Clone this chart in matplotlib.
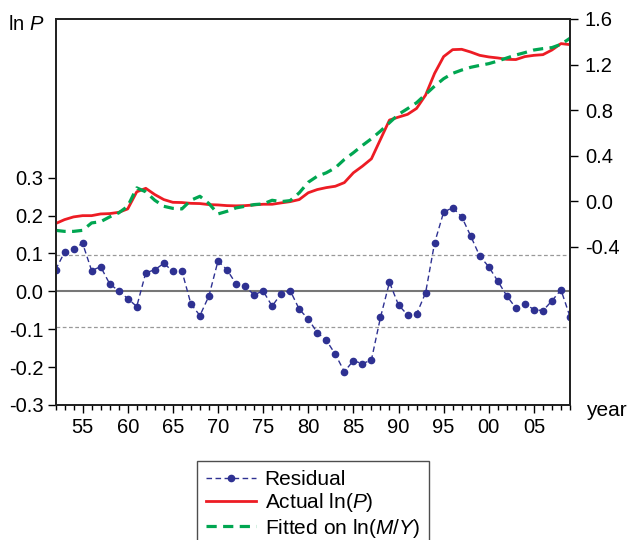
import numpy as np
import matplotlib
matplotlib.use("Agg")
import matplotlib.pyplot as plt
from matplotlib.ticker import FixedLocator, FixedFormatter

plt.rcParams['font.family'] = ['Liberation Sans', 'DejaVu Sans']
plt.rcParams['mathtext.fontset'] = 'custom'
plt.rcParams['mathtext.rm'] = 'Liberation Sans'
plt.rcParams['mathtext.it'] = 'Liberation Sans:italic'

years = np.arange(1952, 2010)

residual = [0.057, 0.103, 0.112, 0.127, 0.055, 0.065, 0.020, 0.001, -0.019, -0.040,
            0.049, 0.057, 0.074, 0.053, 0.054, -0.033, -0.064, -0.012, 0.080, 0.057,
            0.020, 0.013, -0.009, 0.001, -0.039, -0.006, 0.002, -0.047, -0.073, -0.109,
            -0.129, -0.166, -0.212, -0.183, -0.191, -0.181, -0.069, 0.024, -0.036, -0.062,
            -0.060, -0.004, 0.128, 0.209, 0.221, 0.197, 0.146, 0.093, 0.065, 0.027,
            -0.012, -0.044, -0.033, -0.048, -0.051, -0.025, 0.004, -0.067]

actual = [-0.196, -0.161, -0.137, -0.126, -0.126, -0.111, -0.108, -0.097, -0.067, 0.083,
          0.114, 0.059, 0.015, -0.009, -0.011, -0.018, -0.020, -0.029, -0.032, -0.038,
          -0.040, -0.038, -0.032, -0.026, -0.026, -0.014, -0.003, 0.015, 0.075, 0.103,
          0.120, 0.132, 0.164, 0.250, 0.308, 0.373, 0.543, 0.713, 0.739, 0.763,
          0.815, 0.932, 1.123, 1.270, 1.331, 1.334, 1.310, 1.281, 1.267, 1.258,
          1.246, 1.244, 1.270, 1.281, 1.287, 1.328, 1.384, 1.375]

fitted = [-0.255, -0.264, -0.264, -0.255, -0.190, -0.179, -0.137, -0.102, -0.044, 0.118,
          0.083, 0.009, -0.044, -0.062, -0.067, 0.009, 0.044, -0.020, -0.111, -0.088,
          -0.058, -0.044, -0.029, -0.023, 0.009, -0.003, 0.006, 0.074, 0.167, 0.220,
          0.250, 0.294, 0.367, 0.426, 0.490, 0.549, 0.616, 0.690, 0.763, 0.813,
          0.865, 0.938, 1.011, 1.076, 1.123, 1.152, 1.176, 1.193, 1.208, 1.231,
          1.258, 1.284, 1.305, 1.328, 1.340, 1.349, 1.378, 1.431]

left_ticks = [-0.3, -0.2, -0.1, 0.0, 0.1, 0.2, 0.3]
left_labels = ['-0.3', '-0.2', '-0.1', '0.0', '0.1', '0.2', '0.3']
right_ticks = [-0.4, 0.0, 0.4, 0.8, 1.2, 1.6]
right_labels = ['-0.4', '0.0', '0.4', '0.8', '1.2', '1.6']
year_ticks = [1955, 1960, 1965, 1970, 1975, 1980, 1985, 1990, 1995, 2000, 2005]
year_labels = ['55', '60', '65', '70', '75', '80', '85', '90', '95', '00', '05']
band = 0.095

blue = '#2e3192'
red = '#ed1c24'
green = '#00a651'

fig = plt.figure(figsize=(6.27, 5.4), dpi=100)
ax = fig.add_axes([55.5 / 627, 1 - 405 / 540, (570 - 55.5) / 627, (405 - 19) / 540])
ax2 = ax.twinx()

# reference lines for residual
ax.axhline(0, color='#777777', lw=1.5, zorder=1)
ax.axhline(band, color='#999999', lw=0.9, ls=(0, (3, 2)), zorder=1)
ax.axhline(-band, color='#999999', lw=0.9, ls=(0, (3, 2)), zorder=1)

l_res, = ax.plot(years, residual, color=blue, lw=1.0, ls=(0, (4, 2.5)),
                 marker='o', ms=4.5, mec=blue, mfc=blue, label='Residual')
l_act, = ax2.plot(years, actual, color=red, lw=2.0, label='Actual ln($P$)')
l_fit, = ax2.plot(years, fitted, color=green, lw=2.3, ls=(0, (3.2, 2)),
                  label='Fitted on ln($M/Y$)')

ax.set_xlim(1952, 2009)
ax.set_ylim(-0.3, 0.719)
ax2.set_ylim(-1.788, 1.6)

ax.yaxis.set_major_locator(FixedLocator(left_ticks))
ax.yaxis.set_major_formatter(FixedFormatter(left_labels))
ax2.yaxis.set_major_locator(FixedLocator(right_ticks))
ax2.yaxis.set_major_formatter(FixedFormatter(right_labels))
ax.xaxis.set_major_locator(FixedLocator(year_ticks))
ax.xaxis.set_major_formatter(FixedFormatter(year_labels))
ax.xaxis.set_minor_locator(FixedLocator(list(years)))

for a in (ax, ax2):
    for s in a.spines.values():
        s.set_linewidth(1.3)
        s.set_color('#222222')
ax.tick_params(axis='both', which='major', direction='out', length=5.8, width=1,
               labelsize=14.5, pad=3.0)
ax.tick_params(axis='x', which='minor', direction='out', length=3.6, width=1)
ax.tick_params(axis='x', which='major', pad=3.4)
ax2.tick_params(axis='y', direction='out', length=5.8, width=1, labelsize=14.5, pad=5)

fig.text(8 / 627, 1 - 24 / 540, 'ln $P$', fontsize=14.5, va='center', ha='left')
fig.text(586 / 627, 1 - 411 / 540, 'year', fontsize=15, va='center', ha='left')

leg = fig.legend(handles=[l_res, l_act, l_fit], loc='upper left',
                 bbox_to_anchor=(197 / 627, 1 - 461 / 540), fontsize=15,
                 frameon=True, fancybox=False, numpoints=1, handlelength=2.4,
                 handletextpad=0.4, borderpad=0.45, labelspacing=0.1,
                 borderaxespad=0)
leg.get_frame().set_edgecolor('#222222')
leg.get_frame().set_linewidth(1.0)

fig.savefig('out.png', dpi=100)
